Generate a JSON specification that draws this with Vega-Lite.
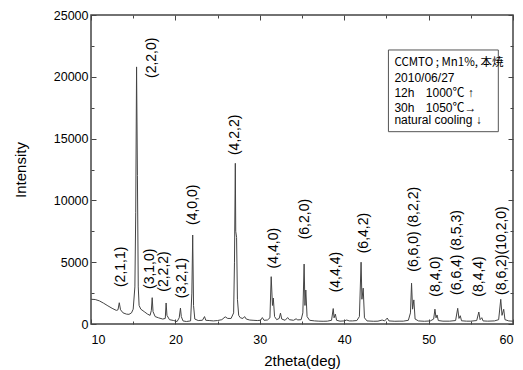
{
  "$schema": "https://vega.github.io/schema/vega-lite/v6.json",
  "width": 422,
  "height": 309,
  "autosize": {"type": "none"},
  "padding": {"left": 91, "top": 15, "right": 10, "bottom": 46},
  "background": "white",
  "config": {
    "view": {"stroke": "#444", "strokeWidth": 1.5},
    "font": "Liberation Sans",
    "axis": {"domain": false, "grid": false, "tickColor": "#444", "labelColor": "black", "titleColor": "black", "labelFont": "Liberation Sans", "titleFont": "Liberation Sans", "titleFontWeight": "normal", "labelFontSize": 12.5, "titleFontSize": 15}
  },
  "datasets": {
    "xrd": [
      {"t":10.0,"i":2000},{"t":10.5,"i":1980},{"t":11.0,"i":1870},{"t":11.5,"i":1680},{"t":12.0,"i":1470},{"t":12.5,"i":1270},{"t":13.0,"i":1100},{"t":13.2,"i":1150},{"t":13.35,"i":1720},{"t":13.5,"i":1150},{"t":13.8,"i":900},{"t":14.2,"i":800},{"t":14.5,"i":780},{"t":14.8,"i":900},{"t":15.0,"i":1200},{"t":15.2,"i":3000},{"t":15.3,"i":9000},{"t":15.4,"i":20800},{"t":15.5,"i":12000},{"t":15.6,"i":3000},{"t":15.7,"i":1500},{"t":15.9,"i":1200},{"t":16.3,"i":1000},{"t":16.7,"i":800},{"t":17.0,"i":700},{"t":17.15,"i":1100},{"t":17.25,"i":2130},{"t":17.35,"i":1000},{"t":17.6,"i":600},{"t":18.0,"i":500},{"t":18.5,"i":400},{"t":18.8,"i":450},{"t":18.9,"i":1700},{"t":19.0,"i":700},{"t":19.3,"i":350},{"t":19.8,"i":280},{"t":20.2,"i":200},{"t":20.45,"i":500},{"t":20.6,"i":1290},{"t":20.7,"i":600},{"t":20.9,"i":250},{"t":21.3,"i":200},{"t":21.8,"i":250},{"t":21.95,"i":2500},{"t":22.05,"i":7200},{"t":22.15,"i":1500},{"t":22.3,"i":400},{"t":22.7,"i":280},{"t":23.2,"i":300},{"t":23.45,"i":600},{"t":23.6,"i":300},{"t":24.0,"i":280},{"t":24.5,"i":250},{"t":25.0,"i":280},{"t":25.5,"i":350},{"t":25.9,"i":580},{"t":26.2,"i":450},{"t":26.6,"i":450},{"t":26.9,"i":900},{"t":27.0,"i":5000},{"t":27.1,"i":13000},{"t":27.15,"i":7500},{"t":27.25,"i":7000},{"t":27.35,"i":2000},{"t":27.5,"i":700},{"t":27.7,"i":500},{"t":28.0,"i":450},{"t":28.2,"i":600},{"t":28.4,"i":400},{"t":28.8,"i":320},{"t":29.2,"i":300},{"t":29.7,"i":280},{"t":30.1,"i":300},{"t":30.3,"i":520},{"t":30.5,"i":300},{"t":30.9,"i":320},{"t":31.2,"i":500},{"t":31.35,"i":3830},{"t":31.5,"i":1500},{"t":31.6,"i":2100},{"t":31.75,"i":600},{"t":32.0,"i":350},{"t":32.3,"i":450},{"t":32.45,"i":880},{"t":32.6,"i":400},{"t":33.0,"i":300},{"t":33.3,"i":520},{"t":33.5,"i":350},{"t":34.0,"i":300},{"t":34.3,"i":420},{"t":34.5,"i":330},{"t":34.9,"i":350},{"t":35.1,"i":900},{"t":35.25,"i":4850},{"t":35.35,"i":1500},{"t":35.45,"i":2750},{"t":35.6,"i":600},{"t":35.9,"i":300},{"t":36.5,"i":250},{"t":37.0,"i":230},{"t":37.5,"i":220},{"t":38.0,"i":230},{"t":38.5,"i":300},{"t":38.7,"i":1250},{"t":38.8,"i":500},{"t":38.95,"i":800},{"t":39.1,"i":300},{"t":39.5,"i":230},{"t":40.0,"i":250},{"t":40.3,"i":320},{"t":40.6,"i":250},{"t":41.0,"i":250},{"t":41.5,"i":280},{"t":41.8,"i":600},{"t":42.0,"i":5000},{"t":42.1,"i":2000},{"t":42.25,"i":2900},{"t":42.4,"i":500},{"t":42.7,"i":250},{"t":43.5,"i":220},{"t":44.0,"i":230},{"t":44.5,"i":320},{"t":44.8,"i":250},{"t":45.1,"i":480},{"t":45.3,"i":250},{"t":46.0,"i":220},{"t":46.5,"i":230},{"t":47.0,"i":230},{"t":47.6,"i":300},{"t":47.85,"i":900},{"t":47.98,"i":3300},{"t":48.1,"i":1200},{"t":48.25,"i":1950},{"t":48.4,"i":400},{"t":48.8,"i":250},{"t":49.5,"i":220},{"t":50.2,"i":250},{"t":50.6,"i":400},{"t":50.75,"i":1200},{"t":50.88,"i":500},{"t":51.0,"i":730},{"t":51.15,"i":280},{"t":51.7,"i":230},{"t":52.5,"i":230},{"t":53.2,"i":280},{"t":53.45,"i":1270},{"t":53.6,"i":450},{"t":53.75,"i":670},{"t":53.9,"i":260},{"t":54.5,"i":230},{"t":55.0,"i":230},{"t":55.7,"i":280},{"t":55.95,"i":970},{"t":56.1,"i":350},{"t":56.3,"i":510},{"t":56.45,"i":250},{"t":57.0,"i":230},{"t":57.8,"i":250},{"t":58.3,"i":350},{"t":58.55,"i":2000},{"t":58.7,"i":700},{"t":58.9,"i":1190},{"t":59.05,"i":350},{"t":59.5,"i":250},{"t":60.0,"i":230}
    ],
    "peaks": [
      {"t":13.5,"i":2990,"label":"(2,1,1)"},
      {"t":17.2,"i":19900,"label":"(2,2,0)"},
      {"t":17.0,"i":2830,"label":"(3,1,0)"},
      {"t":18.7,"i":2610,"label":"(2,2,2)"},
      {"t":20.8,"i":2080,"label":"(3,2,1)"},
      {"t":22.1,"i":8010,"label":"(4,0,0)"},
      {"t":27.1,"i":13670,"label":"(4,2,2)"},
      {"t":31.65,"i":4500,"label":"(4,4,0)"},
      {"t":35.3,"i":6850,"label":"(6,2,0)"},
      {"t":39.0,"i":2560,"label":"(4,4,4)"},
      {"t":42.3,"i":5720,"label":"(6,4,2)"},
      {"t":48.3,"i":4230,"label":"(6,6,0) (8,2,2)"},
      {"t":50.85,"i":2210,"label":"(8,4,0)"},
      {"t":53.4,"i":2350,"label":"(6,6,4) (8,5,3)"},
      {"t":56.0,"i":2210,"label":"(8,4,4)"},
      {"t":58.65,"i":2350,"label":"(8,6,2)(10,2,0)"}
    ],
    "box": [{"x1":45.24,"x2":58.26,"y1":15560,"y2":22170}],
    "head": [
      {"t":45.95,"i":20870,"txt":"CCMTO ; Mn1%, 本焼"}
    ],
    "note": [
      {"t":45.95,"i":19600,"txt":"2010/06/27"},
      {"t":45.95,"i":18390,"txt":"12h"},
      {"t":49.67,"i":18390,"txt":"1000℃ ↑"},
      {"t":45.95,"i":17180,"txt":"30h"},
      {"t":49.67,"i":17180,"txt":"1050℃→"},
      {"t":45.95,"i":16180,"txt":"natural cooling ↓"}
    ]
  },
  "resolve": {"axis": {"x": "independent", "y": "independent"}},
  "layer": [
    {
      "data": {"name": "xrd"},
      "mark": {"type": "line", "stroke": "#444", "strokeWidth": 1, "interpolate": "linear"},
      "encoding": {
        "x": {"field": "t", "type": "quantitative", "scale": {"domain": [10, 60], "nice": false, "zero": false},
              "axis": {"orient": "bottom", "values": [10,20,30,40,50,60], "tickSize": -5, "labelPadding": 14, "title": "2theta(deg)", "titlePadding": 8}},
        "y": {"field": "i", "type": "quantitative", "scale": {"domain": [0, 25000], "nice": false},
              "axis": {"orient": "left", "values": [0,5000,10000,15000,20000,25000], "format": "d", "tickSize": -5, "labelPadding": 8, "title": "Intensity", "titlePadding": 25}}
      }
    },
    {
      "data": {"name": "peaks"},
      "mark": {"type": "text", "angle": 270, "align": "left", "baseline": "middle", "fontSize": 14, "font": "Liberation Sans", "color": "black"},
      "encoding": {
        "x": {"field": "t", "type": "quantitative", "axis": {"orient": "bottom", "values": [15,25,35,45,55], "tickSize": -3, "labels": false, "title": null}},
        "y": {"field": "i", "type": "quantitative", "axis": {"orient": "left", "values": [2500,7500,12500,17500,22500], "tickSize": -3, "labels": false, "title": null}},
        "text": {"field": "label"}
      }
    },
    {
      "data": {"name": "box"},
      "mark": {"type": "rect", "fill": "white", "stroke": "#555", "strokeWidth": 1},
      "encoding": {
        "x": {"field": "x1", "type": "quantitative", "axis": {"orient": "top", "values": [10,20,30,40,50,60], "tickSize": -5, "labels": false, "title": null}},
        "x2": {"field": "x2"},
        "y": {"field": "y1", "type": "quantitative", "axis": {"orient": "right", "values": [0,5000,10000,15000,20000,25000], "tickSize": -5, "labels": false, "title": null}},
        "y2": {"field": "y2"}
      }
    },
    {
      "data": {"name": "note"},
      "mark": {"type": "text", "align": "left", "baseline": "alphabetic", "fontSize": 12, "font": "Liberation Sans, Noto Sans CJK JP", "color": "black"},
      "encoding": {
        "x": {"field": "t", "type": "quantitative", "axis": {"orient": "top", "values": [15,25,35,45,55], "tickSize": -3, "labels": false, "title": null}},
        "y": {"field": "i", "type": "quantitative", "axis": {"orient": "right", "values": [2500,7500,12500,17500,22500], "tickSize": -3, "labels": false, "title": null}},
        "text": {"field": "txt"}
      }
    },
    {
      "data": {"name": "head"},
      "mark": {"type": "text", "align": "left", "baseline": "alphabetic", "fontSize": 11.5, "font": "Noto Sans CJK JP", "color": "black"},
      "encoding": {
        "x": {"field": "t", "type": "quantitative", "axis": null},
        "y": {"field": "i", "type": "quantitative", "axis": null},
        "text": {"field": "txt"}
      }
    }
  ]
}
